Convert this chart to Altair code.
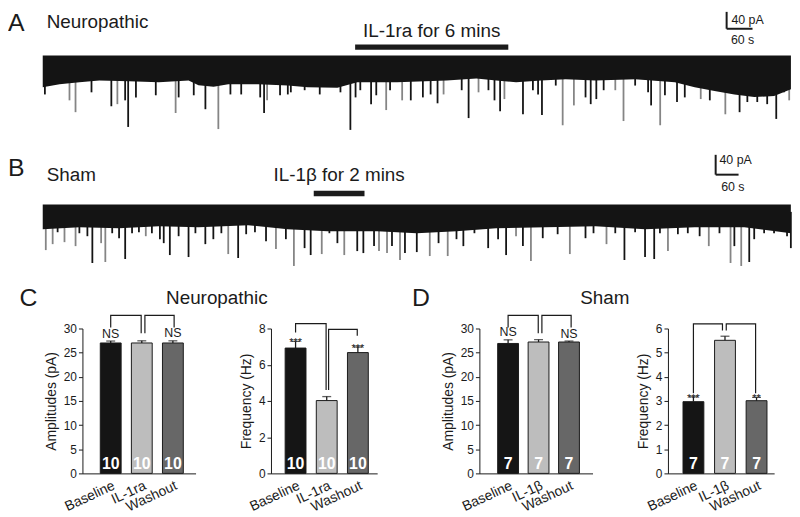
import json
import altair as alt
import pandas as pd

FONT = "Liberation Sans"
INK = "#1b1b1b"
TRACE = "#141414"
GREY_EVENT = "#858585"

# ---------------- Panel A : neuropathic recording (time in s, current in pA) ----------------
A_env_t = [0, 39, 85, 131, 200, 269, 338, 361, 396, 430, 499, 568, 614, 683, 729, 821, 936, 1005,
           1051, 1097, 1155, 1212, 1281, 1373, 1465, 1511, 1557, 1603, 1649, 1695, 1734]
A_env_i = [-75, -68, -63, -59, -61, -63, -59, -70, -74, -68, -68, -71, -75, -76, -63, -63, -59, -54,
           -59, -63, -59, -56, -59, -56, -63, -75, -84, -92, -98, -96, -80]
A_spk_t = [5, 62, 76, 113, 159, 173, 191, 198, 216, 262, 308, 315, 350, 377, 407, 435, 460, 504, 513, 520,
           550, 568, 575, 607, 642, 690, 713, 725, 736, 761, 773, 796, 805, 833, 853, 881, 899, 915, 929, 971,
           987, 1010, 1033, 1047, 1060, 1070, 1113, 1136, 1148, 1157, 1189, 1205, 1231, 1258, 1270, 1283, 1300, 1327, 1346, 1373,
           1403, 1410, 1431, 1442, 1470, 1488, 1525, 1546, 1562, 1582, 1615, 1633, 1656, 1679, 1700, 1718, 1730]
A_spk_i = [-92, -106, -134, -87, -120, -115, -106, -169, -99, -94, -136, -99, -94, -127, -174, -92, -92, -99, -136, -106,
           -94, -92, -87, -82, -92, -87, -176, -99, -82, -115, -94, -129, -82, -106, -106, -99, -92, -113, -92, -82,
           -148, -87, -82, -106, -132, -103, -139, -82, -92, -141, -71, -165, -118, -99, -115, -103, -82, -82, -155, -71,
           -87, -118, -165, -94, -110, -99, -103, -106, -75, -139, -134, -110, -110, -115, -150, -87, -106]
A_spk_tone = ["k", "g", "g", "k", "k", "g", "k", "k", "k", "k", "g", "k", "k", "k", "g", "k", "k", "k", "k", "g",
              "k", "k", "k", "k", "k", "k", "k", "k", "k", "k", "k", "g", "k", "g", "k", "k", "k", "k", "g", "k",
              "k", "g", "k", "k", "k", "g", "k", "k", "k", "k", "k", "g", "g", "k", "k", "k", "k", "g", "g", "k",
              "k", "k", "g", "k", "k", "k", "g", "k", "k", "g", "k", "k", "k", "k", "k", "k", "g"]
A_drug = {"label": "IL-1ra for 6 mins", "start": 724, "end": 1079}

# ---------------- Panel B : sham recording ----------------
B_env_t = [0, 96, 200, 304, 408, 538, 642, 746, 876, 980, 1084, 1188, 1318, 1448, 1578, 1708, 1838, 1960]
B_env_i = [-50, -46, -48, -44, -46, -42, -50, -54, -54, -58, -54, -48, -46, -44, -50, -46, -46, -58]
B_spk_t = [8, 26, 39, 57, 86, 96, 117, 130, 153, 164, 182, 200, 216, 234, 252, 270, 286, 307, 317, 333,
           356, 382, 400, 426, 447, 468, 486, 512, 533, 556, 585, 611, 637, 658, 686, 702, 731, 751, 772, 790,
           824, 840, 868, 881, 902, 915, 936, 949, 980, 1014, 1037, 1061, 1084, 1102, 1131, 1167, 1193, 1214, 1240, 1258,
           1279, 1310, 1349, 1381, 1422, 1443, 1477, 1500, 1524, 1552, 1578, 1602, 1617, 1638, 1664, 1690, 1721, 1745, 1773, 1802,
           1812, 1830, 1851, 1864, 1890, 1916, 1950, 1960]
B_spk_i = [-92, -80, -56, -76, -84, -58, -64, -118, -78, -116, -58, -68, -110, -58, -56, -64, -58, -70, -78, -102,
           -64, -106, -58, -80, -70, -58, -100, -108, -60, -56, -74, -90, -70, -124, -88, -102, -100, -58, -78, -102,
           -94, -98, -84, -94, -98, -84, -112, -98, -96, -104, -78, -104, -70, -84, -58, -88, -70, -102, -64, -84,
           -114, -68, -60, -100, -68, -58, -80, -58, -112, -56, -106, -110, -58, -94, -60, -58, -64, -84, -58, -118,
           -84, -124, -116, -70, -58, -58, -64, -88]
B_spk_tone = ["g", "g", "k", "g", "g", "k", "k", "k", "g", "g", "k", "k", "k", "k", "k", "g", "k", "k", "k", "k",
              "k", "k", "k", "k", "k", "k", "g", "k", "k", "k", "k", "g", "k", "g", "k", "k", "g", "k", "k", "g",
              "k", "k", "k", "g", "g", "k", "g", "k", "k", "g", "k", "g", "k", "k", "k", "k", "k", "k", "g", "k",
              "g", "k", "k", "g", "k", "k", "g", "k", "k", "k", "k", "k", "k", "g", "k", "k", "k", "g", "k", "g",
              "k", "g", "k", "k", "k", "k", "k", "k"]
B_drug = {"label": "IL-1\u03b2 for 2 mins", "start": 710, "end": 843}

# ---------------- Panels C and D : summary bars ----------------
COND_C = ["Baseline", "IL-1ra", "Washout"]
COND_D = ["Baseline", "IL-1\u03b2", "Washout"]
BAR_COLORS = ["#151515", "#bdbdbd", "#676767"]
C_amp = [27.0, 27.0, 27.0]
C_amp_err = [0.4, 0.45, 0.45]
C_freq = [6.92, 4.02, 6.67]
C_freq_err = [0.37, 0.22, 0.31]
D_amp = [26.9, 27.2, 27.2]
D_amp_err = [0.75, 0.5, 0.2]
D_freq = [2.97, 5.51, 3.01]
D_freq_err = [0.2, 0.17, 0.14]
N_C = 10
N_D = 7
C_amp_sig = ["NS", "", "NS"]
C_freq_sig = ["***", "", "***"]
D_amp_sig = ["NS", "", "NS"]
D_freq_sig = ["***", "", "**"]
# comparison brackets (x in condition index, y in axis units)
C_amp_brk_x = [[0, 0, 0.98, 0.98], [1.10, 1.10, 2.04, 2.04]]
C_amp_brk_y = [[30.2, 32.7, 32.7, 29.0], [29.0, 32.7, 32.7, 30.2]]
C_freq_brk_x = [[0, 0, 0.98, 0.98], [1.06, 1.06, 1.98, 1.98]]
C_freq_brk_y = [[7.78, 8.27, 8.27, 4.6], [4.6, 7.95, 7.95, 7.6]]
D_amp_brk_x = [[0, 0, 0.99, 0.99], [1.11, 1.11, 2.07, 2.07]]
D_amp_brk_y = [[30.2, 32.7, 32.7, 29.0], [29.0, 32.7, 32.7, 30.2]]
D_freq_brk_x = [[0, 0, 0.92, 0.92], [1.04, 1.04, 1.97, 1.97]]
D_freq_brk_y = [[3.32, 6.19, 6.19, 5.92], [5.92, 6.19, 6.19, 3.32]]


# ======================================================================
def text_layer(rows, X, Y, align, baseline):
    df = pd.DataFrame(rows, columns=["label", "x", "y", "fs"])
    return alt.Chart(df).mark_text(align=align, baseline=baseline, color=INK, font=FONT).encode(
        x=X("x:Q"), y=Y("y:Q"), text="label:N", size=alt.Size("fs:Q", scale=None, legend=None))


def trace_row(env_t, env_i, spk_t, spk_i, spk_tone, xdom, ydom, height, drug, drug_i,
              bar_t, bar_i, left_labels, center_labels, top_labels):
    def X(f):
        return alt.X(f, scale=alt.Scale(domain=xdom, nice=False, zero=False), axis=None)

    def Y(f):
        return alt.Y(f, scale=alt.Scale(domain=ydom, nice=False, zero=False), axis=None)

    tone_col = {"k": TRACE, "g": GREY_EVENT}
    spk = pd.DataFrame({"t": spk_t, "i": spk_i, "ink": [tone_col[s] for s in spk_tone]})
    spikes = alt.Chart(spk).mark_rule(strokeWidth=1.8).encode(
        x=X("t:Q"), y=Y("i:Q"), y2=alt.datum(-15),
        color=alt.Color("ink:N", scale=None, legend=None))
    band = alt.Chart(pd.DataFrame({"t": env_t, "i": env_i})).mark_area(color=TRACE).encode(
        x=X("t:Q"), y=Y("i:Q"), y2=alt.datum(0))
    drug_bar = alt.Chart(pd.DataFrame({"t": [drug["start"]], "t2": [drug["end"]], "i": [drug_i]})).mark_rule(
        strokeWidth=5.5, color=INK).encode(x=X("t:Q"), x2="t2:Q", y=Y("i:Q"))
    sb = pd.DataFrame({"t": [bar_t, bar_t], "t2": [bar_t, bar_t + 60],
                       "i": [bar_i, bar_i], "i2": [bar_i + 40, bar_i]})
    scale_bar = alt.Chart(sb).mark_rule(strokeWidth=2, color=INK).encode(
        x=X("t:Q"), x2="t2:Q", y=Y("i:Q"), y2="i2:Q")
    layers = [spikes, band, drug_bar, scale_bar,
              text_layer(left_labels, X, Y, "left", "middle"),
              text_layer(center_labels, X, Y, "center", "middle"),
              text_layer(top_labels, X, Y, "left", "top")]
    return alt.layer(*layers).properties(width=789, height=height)


rowA = trace_row(
    A_env_t, A_env_i, A_spk_t, A_spk_i, A_spk_tone,
    xdom=[-80.5, 1734.2], ydom=[-197.4, 105.75], height=129,
    drug=A_drug, drug_i=20, bar_t=1585, bar_i=63.5,
    left_labels=[["Neuropathic", 9.2, 80, 19], ["40 pA", 1596, 84.6, 12.5]],
    center_labels=[[A_drug["label"], (A_drug["start"] + A_drug["end"]) / 2, 58, 19], ["60 s", 1622, 37.6, 12.5]],
    top_labels=[["A", -80.5, 105.75, 25]],
)

rowB = trace_row(
    B_env_t, B_env_i, B_spk_t, B_spk_i, B_spk_tone,
    xdom=[-91, 1960.4], ydom=[-244, 126], height=185,
    drug=B_drug, drug_i=22, bar_t=1763, bar_i=60,
    left_labels=[["Sham", 10.4, 59, 19], ["40 pA", 1773, 90, 12.5]],
    center_labels=[[B_drug["label"], (B_drug["start"] + B_drug["end"]) / 2, 60, 19], ["60 s", 1808, 36, 12.5]],
    top_labels=[["B", -91, 98, 25]],
)


def bar_panel(cats, means, errs, n, sig, sig_fs, sig_dy, brk_x, brk_y, ymax, ystep, ytitle,
              xdom, width, notes_left, notes_center):
    lab = json.dumps(cats, ensure_ascii=False)
    xscale = alt.Scale(domain=xdom, nice=False, zero=False)
    yscale = alt.Scale(domain=[0, ymax], nice=False, zero=True)
    yticks = list(range(0, ymax + 1, ystep))
    xaxis = alt.Axis(values=[0, 1, 2], labelExpr=f"{lab}[datum.value]", title=None, ticks=False,
                     labelAngle=-25, labelAlign="right", labelBaseline="top", labelPadding=5,
                     labelFontSize=14, labelOverlap=False, labelFlush=False, grid=False)
    yaxis = alt.Axis(values=yticks, tickCount=len(yticks), title=ytitle, tickSize=4, grid=False,
                     labelFontSize=12, titleFontSize=14, labelPadding=2, titlePadding=5,
                     labelOverlap=False, labelFlush=False, labelSeparation=0)

    def X(f, main=False):
        return alt.X(f, scale=xscale, axis=xaxis) if main else alt.X(f, scale=xscale)

    def Y(f, main=False):
        return alt.Y(f, scale=yscale, axis=yaxis) if main else alt.Y(f, scale=yscale)

    df = pd.DataFrame({"pos": [0, 1, 2], "cond": cats, "val": means,
                       "top": [m + e for m, e in zip(means, errs)], "zero": [0, 0, 0],
                       "n": [str(n)] * 3, "sig": sig, "fill": BAR_COLORS})
    base = alt.Chart(df)
    bars = base.mark_bar(size=21, stroke=INK, strokeWidth=1, orient="vertical").encode(
        x=X("pos:Q", True), y=Y("val:Q", True),
        color=alt.Color("fill:N", scale=None, legend=None))
    err = base.mark_rule(color=INK, strokeWidth=1.3).encode(x=X("pos:Q"), y=Y("val:Q"), y2="top:Q")
    cap = base.mark_tick(orient="horizontal", size=9, thickness=1.3, color=INK).encode(
        x=X("pos:Q"), y=Y("top:Q"))
    counts = base.mark_text(color="white", fontSize=16, fontWeight="bold", baseline="alphabetic",
                            dy=-4, font=FONT).encode(x=X("pos:Q"), y=Y("zero:Q"), text="n:N")
    sigs = base.mark_text(color=INK, fontSize=sig_fs, baseline="alphabetic", dy=sig_dy, font=FONT).encode(
        x=X("pos:Q"), y=Y("top:Q"), text="sig:N")
    rows = []
    for k, (bx, by) in enumerate(zip(brk_x, brk_y)):
        for j, (px, py) in enumerate(zip(bx, by)):
            rows.append({"k": k, "j": j, "pos": px, "val": py})
    brackets = alt.Chart(pd.DataFrame(rows)).mark_line(color=INK, strokeWidth=1.2).encode(
        x=X("pos:Q"), y=Y("val:Q"), detail="k:N", order="j:Q")
    layers = [bars, err, cap, counts, sigs, brackets]
    if notes_left:
        layers.append(text_layer(notes_left, X, Y, "left", "middle"))
    if notes_center:
        layers.append(text_layer(notes_center, X, Y, "center", "middle"))
    return alt.layer(*layers).properties(width=width, height=146)


ampC = bar_panel(COND_C, C_amp, C_amp_err, N_C, C_amp_sig, 12.5, -3.5, C_amp_brk_x, C_amp_brk_y,
                 30, 5, "Amplitudes (pA)", [-0.75, 2.57], 114,
                 [["C", -2.934, 36.37, 25]], [["Neuropathic", 3.414, 36.37, 19]])
freqC = bar_panel(COND_C, C_freq, C_freq_err, N_C, C_freq_sig, 11, 5, C_freq_brk_x, C_freq_brk_y,
                  8, 2, "Frequency (Hz)", [-0.63, 2.46], 107, [], [])
ampD = bar_panel(COND_D, D_amp, D_amp_err, N_D, D_amp_sig, 12.5, -3.5, D_amp_brk_x, D_amp_brk_y,
                 30, 5, "Amplitudes (pA)", [-0.78, 2.61], 114,
                 [["D", -3.158, 36.37, 25]], [["Sham", 3.176, 36.37, 19]])
freqD = bar_panel(COND_D, D_freq, D_freq_err, N_D, D_freq_sig, 11, 5, D_freq_brk_x, D_freq_brk_y,
                  6, 1, "Frequency (Hz)", [-0.65, 2.40], 107, [], [])


def spacer(w):
    return alt.Chart(pd.DataFrame({"v": [0]})).mark_text(text=" ").encode(
        x=alt.value(0), y=alt.value(0)).properties(width=w, height=146)


bottom = alt.hconcat(spacer(75), ampC, spacer(76), freqC, spacer(103), ampD, spacer(76), freqD,
                     spacing=0, bounds="flush")

chart = alt.vconcat(rowA, rowB, bottom, spacing=3, bounds="flush", padding=0).configure(
    font=FONT
).configure_view(stroke=None).configure_axis(
    labelFont=FONT, titleFont=FONT, labelColor=INK, titleColor=INK, domainColor=INK,
    tickColor=INK, titleFontWeight="normal", domainWidth=1, labelOverlap=False
)

chart.save("out.html", embed_options={"renderer": "svg", "actions": False})
